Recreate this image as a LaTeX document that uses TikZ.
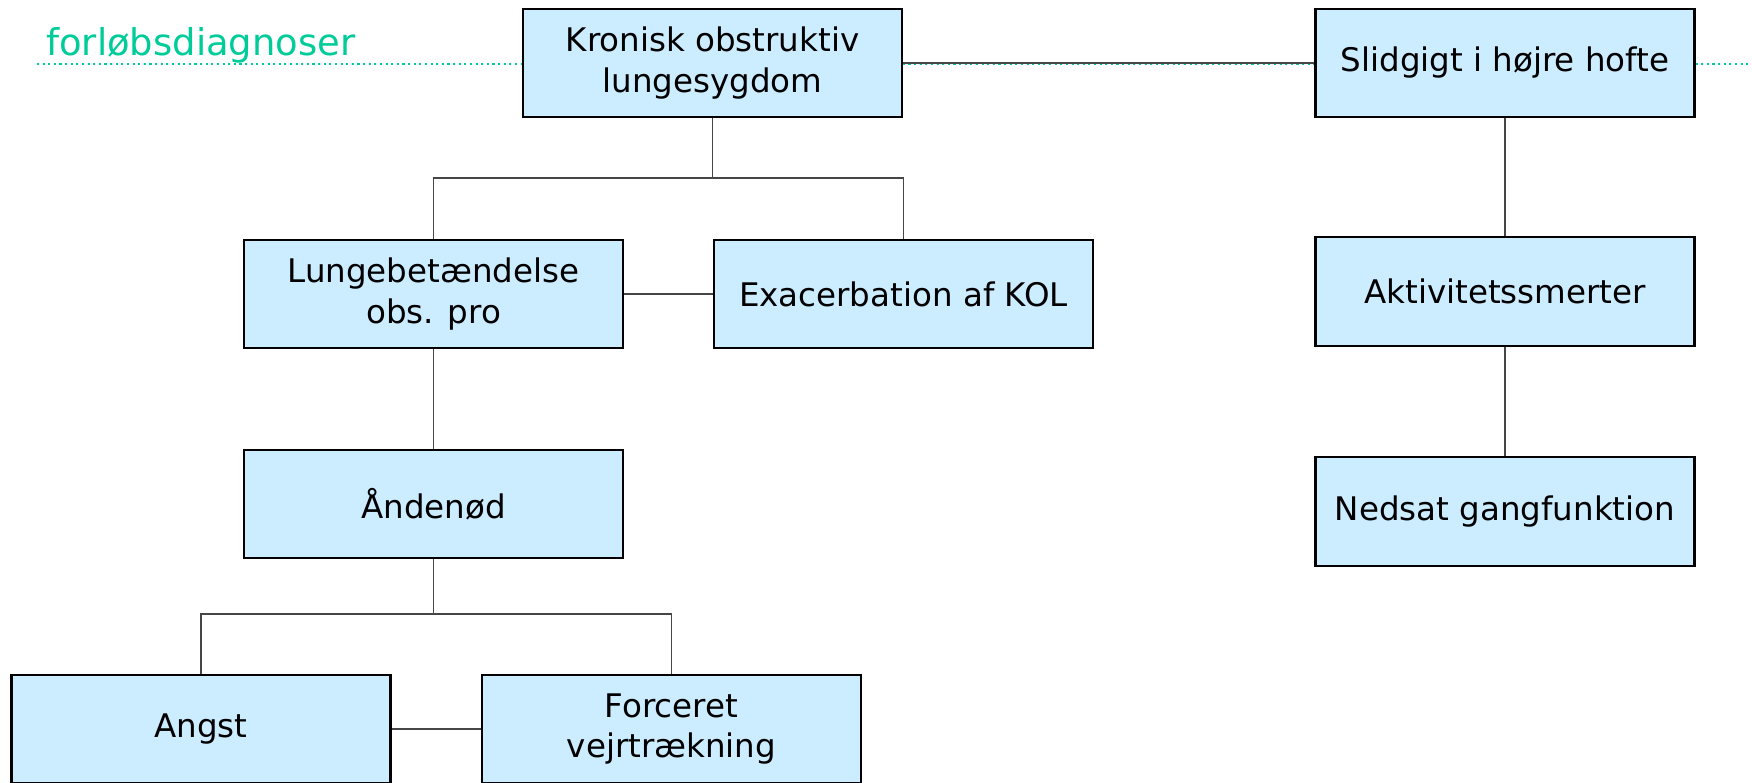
\documentclass[tikz,border=0pt]{standalone}
\usepackage{fontspec}
\setmainfont{DejaVu Sans}
\definecolor{boxblue}{RGB}{204,236,255}
\definecolor{titlegreen}{RGB}{0,204,153}
\definecolor{linkgrey}{RGB}{70,70,70}

\begin{document}
\begin{tikzpicture}[x=0.02cm,y=-0.02cm,
  diagbox/.style={draw=black,line width=1.2pt,fill=boxblue,minimum width=7.58cm,
    minimum height=2.17cm,inner sep=0pt,align=center,
    font=\fontsize{18.5}{22.8}\selectfont},
  link/.style={draw=linkgrey,line width=0.6pt},
  title/.style={text=titlegreen,font=\fontsize{21}{25}\selectfont,inner sep=0pt,anchor=base west}]
\useasboundingbox (0,0) rectangle (1752,782);

% green rule under the heading
\draw[titlegreen,line width=1.2pt,dotted] (37,64) -- (1752,64);
\node[title] (head) at (46,55) {forløbsdiagnoser};

% left tree
\node[diagbox] (kol) at (712.5,63) {Kronisk obstruktiv\\lungesygdom};
\node[diagbox] (lunge) at (433.5,294) {Lungebetændelse\\obs. pro};
\node[diagbox] (exa) at (903.5,294) {Exacerbation af KOL};
\node[diagbox] (aand) at (433.5,504) {Åndenød};
\node[diagbox] (angst) at (201,729) {Angst};
\node[diagbox] (force) at (671.5,729) {Forceret\\vejrtrækning};

% right column
\node[diagbox] (slid) at (1505,63) {Slidgigt i højre hofte};
\node[diagbox] (akt) at (1505,291.5) {Aktivitetssmerter};
\node[diagbox] (ned) at (1505,511.5) {Nedsat gangfunktion};

\coordinate (kolfork) at (712.5,178);
\coordinate (aandfork) at (433.5,614);

\draw[link] (kol.south) -- (kolfork);
\draw[link] (lunge.north) |- (kolfork) -| (exa.north);
\draw[link] (aand.south) -- (aandfork);
\draw[link] (angst.north) |- (aandfork) -| (force.north);
\draw[link] (kol.east) -- (slid.west);
\foreach \a/\b in {lunge/exa,angst/force}
  \draw[link] (\a.east) -- (\b.west);
\foreach \a/\b in {lunge/aand,slid/akt,akt/ned}
  \draw[link] (\a.south) -- (\b.north);
\end{tikzpicture}
\end{document}
